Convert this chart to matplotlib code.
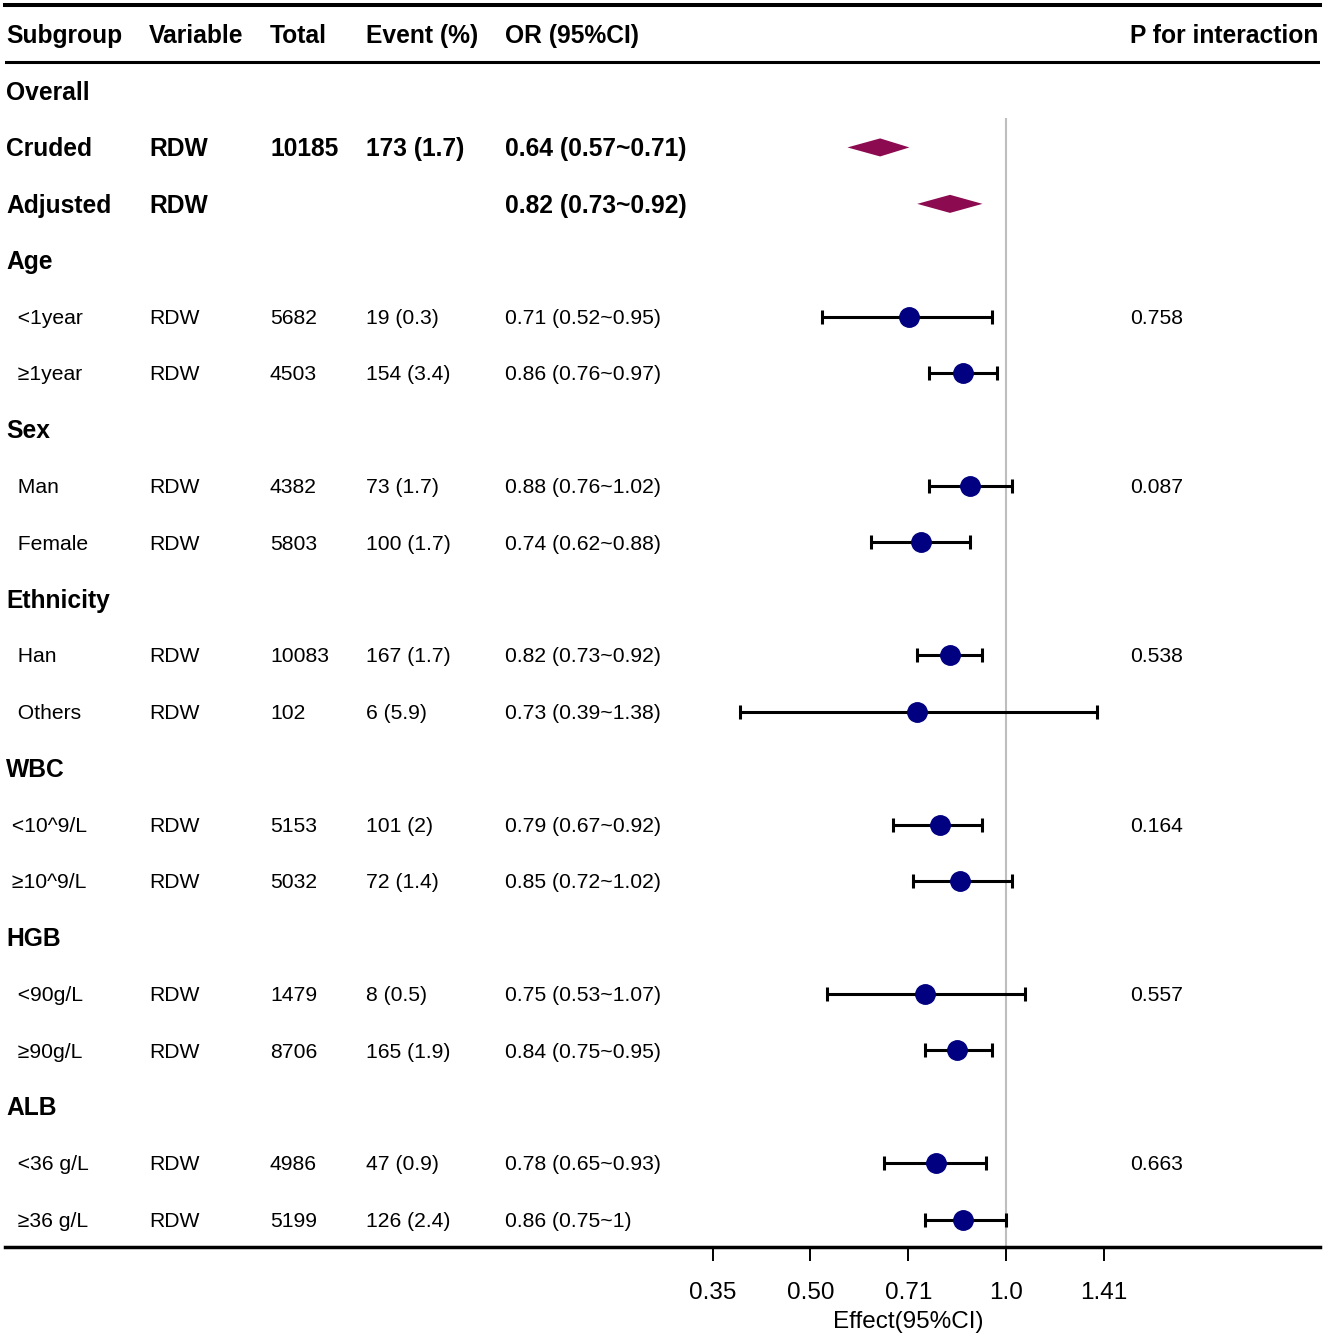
import numpy as np
import matplotlib
matplotlib.use("Agg")
import matplotlib.pyplot as plt
import matplotlib.transforms as mtransforms
from matplotlib.ticker import NullLocator

plt.rcParams["font.family"] = ["Liberation Sans", "DejaVu Sans"]

headers = ["Subgroup", "Variable", "Total", "Event (%)", "OR (95%CI)", "P for interaction"]

subgroup = ["Overall", "Cruded", "Adjusted", "Age", "  <1year", "  \u22651year",
            "Sex", "  Man", "  Female", "Ethnicity", "  Han", "  Others",
            "WBC", " <10^9/L", " \u226510^9/L", "HGB", "  <90g/L", "  \u226590g/L",
            "ALB", "  <36 g/L", "  \u226536 g/L"]
variable = ["", "RDW", "RDW", "", "RDW", "RDW", "", "RDW", "RDW", "", "RDW", "RDW",
            "", "RDW", "RDW", "", "RDW", "RDW", "", "RDW", "RDW"]
total = ["", "10185", "", "", "5682", "4503", "", "4382", "5803", "", "10083", "102",
         "", "5153", "5032", "", "1479", "8706", "", "4986", "5199"]
event = ["", "173 (1.7)", "", "", "19 (0.3)", "154 (3.4)", "", "73 (1.7)", "100 (1.7)",
         "", "167 (1.7)", "6 (5.9)", "", "101 (2)", "72 (1.4)", "", "8 (0.5)",
         "165 (1.9)", "", "47 (0.9)", "126 (2.4)"]
nan = np.nan
est = [nan, 0.64, 0.82, nan, 0.71, 0.86, nan, 0.88, 0.74, nan, 0.82, 0.73,
       nan, 0.79, 0.85, nan, 0.75, 0.84, nan, 0.78, 0.86]
low = [nan, 0.57, 0.73, nan, 0.52, 0.76, nan, 0.76, 0.62, nan, 0.73, 0.39,
       nan, 0.67, 0.72, nan, 0.53, 0.75, nan, 0.65, 0.75]
high = [nan, 0.71, 0.92, nan, 0.95, 0.97, nan, 1.02, 0.88, nan, 0.92, 1.38,
        nan, 0.92, 1.02, nan, 1.07, 0.95, nan, 0.93, 1.0]
p_int = ["", "", "", "", "0.758", "", "", "0.087", "", "", "0.538", "", "",
         "0.164", "", "", "0.557", "", "", "0.663", ""]
summary_rows = [1, 2]

ticks = [2 ** -1.5, 2 ** -1, 2 ** -0.5, 1.0, 2 ** 0.5]
tick_labels = ["0.35", "0.50", "0.71", "1.0", "1.41"]

W, H = 1325, 1338
fig = plt.figure(figsize=(W / 100, H / 100), dpi=100)

# axes spans from the top rule to the bottom rule
ax = fig.add_axes([5 / W, 1 - 1247 / H, 1315 / W, 1242 / H])
row_h = 56.43
ax.set_ylim((1247 - 91) / row_h, (5 - 91) / row_h)
ax.set_xscale("log", base=2)
ax.set_xlim(2 ** ((5 - 1006) / 195.5), 2 ** ((1320 - 1006) / 195.5))

for s in ["left", "right"]:
    ax.spines[s].set_visible(False)
ax.spines["top"].set_linewidth(2.9)
ax.spines["bottom"].set_linewidth(2.5)
ax.axhline((62 - 91) / row_h, color="black", lw=2.2)
ax.vlines(1.0, (118 - 91) / row_h, (1247 - 91) / row_h, color="#BEBEBE", lw=1.5, zorder=1)

ax.set_yticks([])
ax.set_xticks(ticks)
ax.set_xticklabels(tick_labels, fontsize=17.5)
ax.xaxis.set_minor_locator(NullLocator())
ax.tick_params(axis="x", length=10, width=1.4, pad=15.5, colors="black")

col_x = [6, 149, 270, 366, 505, 1130]
tr = mtransforms.blended_transform_factory(fig.transFigure, ax.transData)
dy = 0.03  # text sits a touch below the marks

for x, h in zip(col_x, headers):
    ax.text(x / W, -1.0 + dy, h, transform=tr, fontsize=17.7, fontweight="bold",
            ha="left", va="center")

n = len(subgroup)
for i in range(n):
    is_head = variable[i] == ""
    bold = is_head or i in summary_rows
    fs = 17.7 if bold else 15.2
    fw = "bold" if bold else "normal"
    if np.isnan(est[i]):
        or_txt = ""
    else:
        or_txt = "{:g} ({:g}~{:g})".format(est[i], low[i], high[i])
    vals = [subgroup[i], variable[i], total[i], event[i], or_txt, p_int[i]]
    for x, v in zip(col_x, vals):
        if v:
            ax.text(x / W, i + dy, v, transform=tr, fontsize=fs, fontweight=fw,
                    ha="left", va="center")

# summary diamonds
for i in summary_rows:
    hh = 0.16
    ax.fill([low[i], est[i], high[i], est[i]], [i, i - hh, i, i + hh],
            color="#8B0A50", lw=0, zorder=3)

# subgroup estimates
rows = [i for i in range(n) if not np.isnan(est[i]) and i not in summary_rows]
e = np.array([est[i] for i in rows])
lo = np.array([low[i] for i in rows])
hi = np.array([high[i] for i in rows])
ax.errorbar(e, rows, xerr=[e - lo, hi - e], fmt="o", color="#000080",
            markersize=14, ecolor="black", elinewidth=2.2, capsize=5,
            capthick=2.2, zorder=3)

fig.text(908 / W, 1 - 1322 / H, "Effect(95%CI)", fontsize=17.5,
         ha="center", va="center")

fig.savefig("out.png", dpi=100)
